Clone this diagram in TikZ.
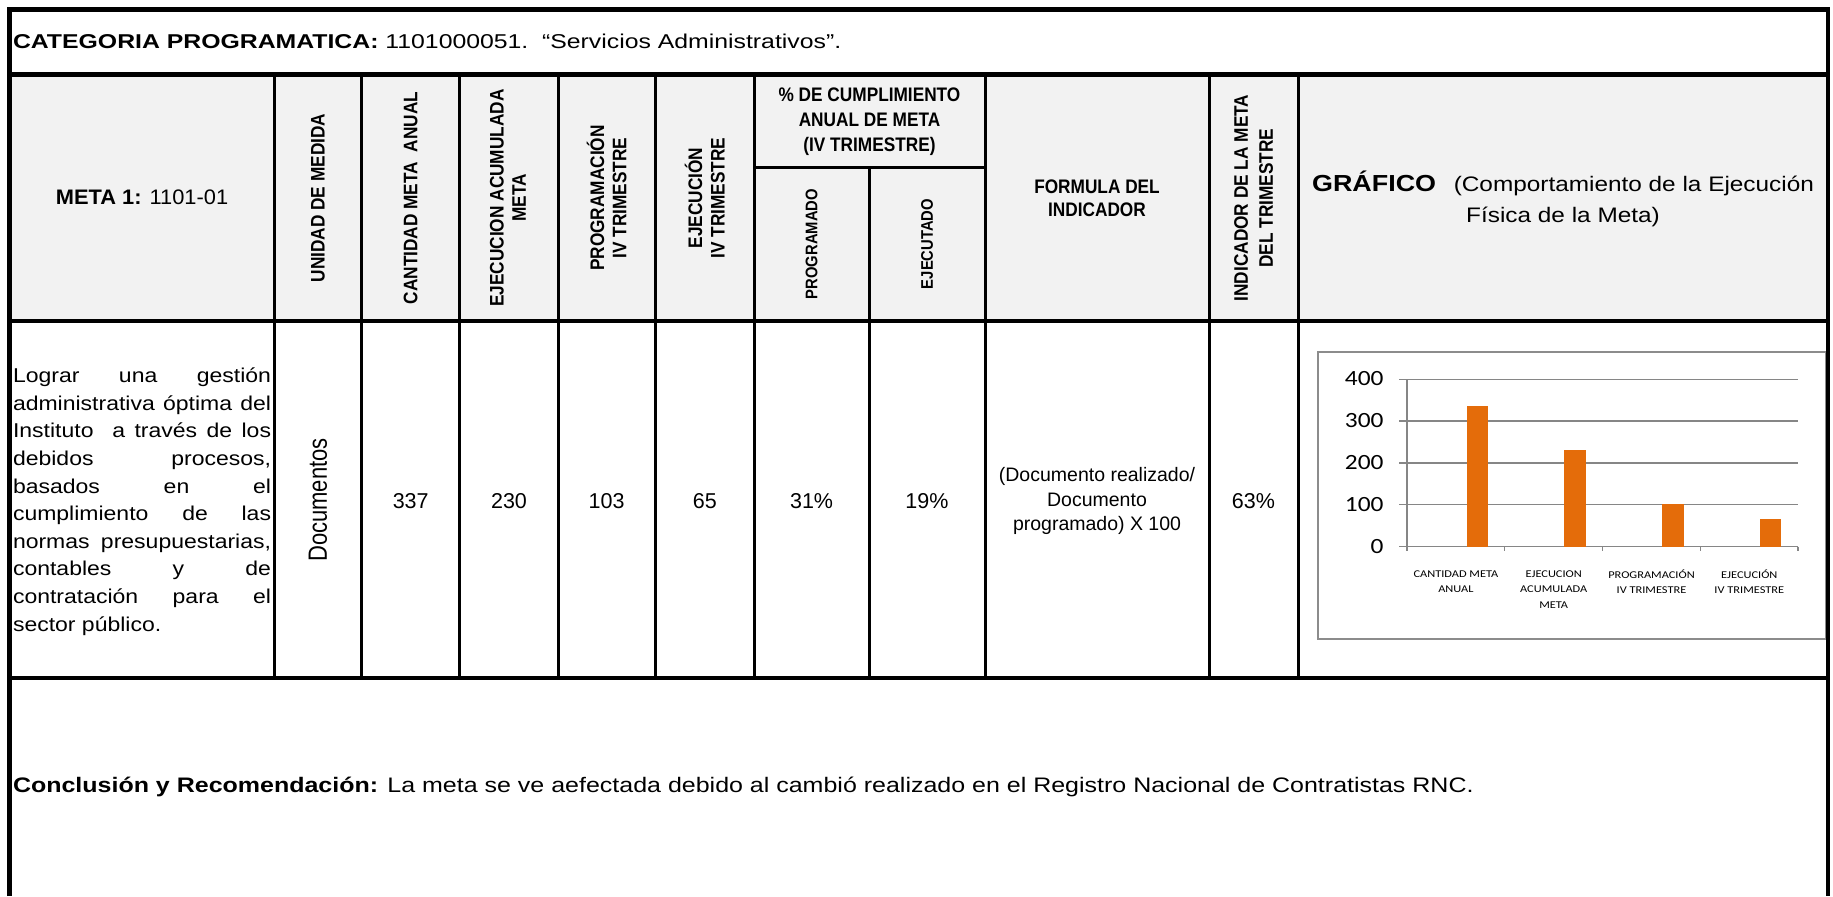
\documentclass[tikz,border=0pt]{standalone}
\usepackage{fontspec}
\setmainfont{Liberation Sans}
\newfontfamily\carlito{Carlito}
\definecolor{hdrgray}{HTML}{F2F2F2}
\definecolor{barorange}{HTML}{E46C0A}
\definecolor{gridgray}{HTML}{868686}
\definecolor{framegray}{HTML}{8C8C8C}
\begin{document}
\begin{tikzpicture}[x=0.5pt,y=-0.5pt,
  every node/.style={inner sep=0pt, outer sep=0pt},
  outerrule/.style={line width=2.35pt},
  innerrule/.style={line width=1.5pt},
  hdrtext/.style={font=\fontsize{9.8}{11.7}\selectfont\bfseries, align=center},
  rothdr/.style={hdrtext, yscale=0.88, rotate=90},
  subhdr/.style={font=\fontsize{8.4}{10}\selectfont\bfseries, yscale=0.88, rotate=90},
  datanum/.style={font=\fontsize{10.75}{13}\selectfont},
  gridln/.style={draw=gridgray, line width=0.6pt},
  barfill/.style={fill=barorange, draw=none},
  ylab/.style={font=\carlito\fontsize{10.85}{13}\selectfont, xscale=1.17, anchor=east},
  catlab/.style={font=\carlito\fontsize{5.2}{7.65}\selectfont, xscale=1.19, align=center},
]
\useasboundingbox (0,0) rectangle (1833,896);
% header fill
\fill[hdrgray] (9.7,74.5) rectangle (1828,321);
% ---- chart ----
\draw[framegray, line width=1pt, fill=white] (1318,352) rectangle (1826,639);
\foreach \v in {1,2,3,4} \draw[gridln] (1407,{546.7-41.9*\v}) -- (1798,{546.7-41.9*\v});
\draw[gridln] (1407,379) -- (1407,546.7) -- (1798,546.7);
\foreach \v in {0,1,2,3,4} \draw[gridln] (1399,{546.7-41.9*\v}) -- (1407,{546.7-41.9*\v});
\foreach \i in {0,1,2,3,4} \draw[gridln] ({1407+97.75*\i},546.7) -- ++(0,4.5);
\foreach \i/\h in {0/337,1/230,2/103,3/65}
  \fill[barfill] ({1407+97.75*\i+59.6},546.7) rectangle ++(21.5,{-0.419*\h});
\node[ylab] (y400) at (1383.5,379) {400};
\node[ylab] (y300) at (1383.5,420.9) {300};
\node[ylab] (y200) at (1383.5,462.8) {200};
\node[ylab] (y100) at (1383.5,504.8) {100};
\node[ylab] (y0) at (1383.5,546.7) {0};
\node[catlab] (cat1) at (1455.9,581.7) {CANTIDAD META\\ANUAL};
\node[catlab] (cat2) at (1553.7,589.6) {EJECUCION\\ACUMULADA\\META};
\node[catlab] (cat3) at (1651.5,581.7) {PROGRAMACIÓN\\IV TRIMESTRE};
\node[catlab] (cat4) at (1749.3,581.7) {EJECUCIÓN\\IV TRIMESTRE};
% ---- rules ----
\foreach \c in {274.5,361.6,459.8,558,655.3,754.3,985.3,1209,1298}
  \draw[innerrule] (\c,74.5) -- (\c,678);
\draw[innerrule] (869,167) -- (869,678);
\draw[innerrule] (754.3,167) -- (985.3,167);
\draw[outerrule] (9.7,74.5) -- (1828,74.5);
\draw[outerrule] (9.7,321) -- (1828,321);
\draw[outerrule] (9.7,678) -- (1828,678);
\draw[outerrule] (9.7,896) -- (9.7,9.7) -- (1828,9.7) -- (1828,896);
% ---- title ----
\node[anchor=base west, font=\fontsize{10}{12}\selectfont, xscale=1.24] (title) at (13,48)
  {\textbf{CATEGORIA PROGRAMATICA:} 1101000051.\ \ “Servicios Administrativos”.};
% ---- header ----
\node[font=\fontsize{10.5}{12}\selectfont, xscale=1.04] (meta) at (142,197.5) {\textbf{META 1:} 1101-01};
\node[rothdr] (unidad) at (318,198) {UNIDAD DE MEDIDA};
\node[rothdr] (cant) at (410.7,198) {CANTIDAD META\ \ ANUAL};
\node[rothdr, font=\fontsize{9.8}{11.15}\selectfont\bfseries] (ejac) at (508,198) {EJECUCION ACUMULADA\\META};
\node[rothdr, font=\fontsize{9.8}{11.15}\selectfont\bfseries] (progh) at (606.6,198) {PROGRAMACIÓN\\IV TRIMESTRE};
\node[rothdr, font=\fontsize{9.8}{11.15}\selectfont\bfseries] (ejech) at (704.8,198) {EJECUCIÓN\\IV TRIMESTRE};
\node[hdrtext, font=\fontsize{9.8}{12.5}\selectfont\bfseries, xscale=0.88] (pct) at (869.5,122)
  {\% DE CUMPLIMIENTO\\ANUAL DE META\\(IV TRIMESTRE)};
\node[subhdr] (pdo) at (811.6,244) {PROGRAMADO};
\node[subhdr] (edo) at (927,244) {EJECUTADO};
\node[hdrtext, xscale=0.88] (formh) at (1097,198) {FORMULA DEL\\INDICADOR};
\node[rothdr, font=\fontsize{9.8}{12.5}\selectfont\bfseries] (indh) at (1253.5,198) {INDICADOR DE LA META\\DEL TRIMESTRE};
\node[align=center, font=\fontsize{10.5}{15.7}\selectfont, xscale=1.16] (graf) at (1563,199)
  {{\bfseries\fontsize{11.6}{15.7}\selectfont GRÁFICO}\hspace{7.6pt}(Comportamiento de la Ejecución\\Física de la Meta)};
% ---- data row ----
\node[anchor=north west, text width=112.2pt, align=justify,
      font=\fontsize{10}{13.8}\selectfont, xscale=1.15] (goal) at (13,368)
  {Lograr una gestión\linebreak administrativa óptima del\linebreak Instituto\ \ a través de los\linebreak debidos procesos,\linebreak basados en el\linebreak cumplimiento de las\linebreak normas presupuestarias,\linebreak contables y de\linebreak contratación para el\linebreak sector público.};
\node[font=\fontsize{11}{13}\selectfont, xscale=1.2, rotate=90] (docs) at (318,500) {Documentos};
\node[datanum] (v337) at (410.7,501) {337};
\node[datanum] (v230) at (509,501) {230};
\node[datanum] (v103) at (606.6,501) {103};
\node[datanum] (v65) at (704.8,501) {65};
\node[datanum] (v31) at (811.6,501) {31\%};
\node[datanum] (v19) at (927,501) {19\%};
\node[align=center, font=\fontsize{9.75}{12.25}\selectfont] (formd) at (1097,501)
  {(Documento realizado/\\Documento\\programado) X 100};
\node[datanum] (v63) at (1253.5,501) {63\%};
% ---- conclusion ----
\node[anchor=base west, font=\fontsize{10.5}{12}\selectfont, xscale=1.19] (concl) at (13,792)
  {\textbf{Conclusión y Recomendación:} La meta se ve aefectada debido al cambió realizado en el Registro Nacional de Contratistas RNC.};
\end{tikzpicture}
\end{document}
